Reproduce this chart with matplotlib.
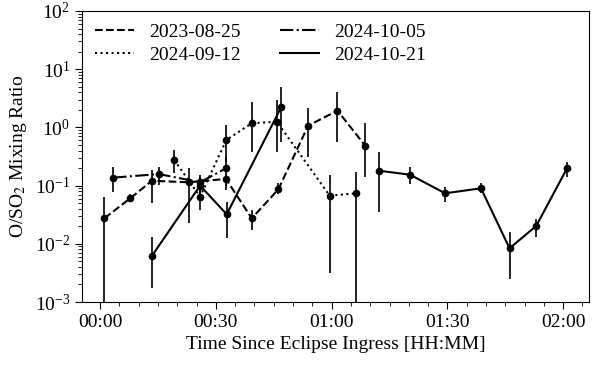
import numpy as np
import matplotlib
matplotlib.use("Agg")
import matplotlib.pyplot as plt
from matplotlib.ticker import FuncFormatter, MultipleLocator
from matplotlib.lines import Line2D

plt.rcParams['font.family'] = ['Liberation Serif', 'DejaVu Serif']
plt.rcParams['mathtext.fontset'] = 'stix'
plt.rcParams['font.size'] = 14

# minutes since ingress, ratio, lower and upper bound of error bar
t_0825 = [1.1, 7.8, 13.4, 22.9, 32.6, 39.3, 46.2, 53.9, 61.5, 68.7]
r_0825 = [0.0274, 0.0605, 0.121, 0.114, 0.130, 0.0274, 0.0864, 1.07, 1.94, 0.485]
lo_0825 = [1e-4, 0.0523, 0.0508, 0.0228, 0.098, 0.0173, 0.0720, 0.314, 0.568, 0.139]
hi_0825 = [0.0645, 0.0718, 0.185, 0.201, 0.160, 0.038, 0.1095, 2.15, 4.11, 1.18]

t_0912 = [19.2, 25.9, 32.7, 39.3, 45.8, 59.5, 66.2]
r_0912 = [0.275, 0.0645, 0.607, 1.18, 1.25, 0.067, 0.0737]
lo_0912 = [0.163, 0.038, 0.257, 0.382, 0.382, 0.0032, 1e-4]
hi_0912 = [0.409, 0.0958, 1.10, 2.77, 2.96, 0.152, 0.173]

t_1005 = [3.4, 15.2, 25.9, 32.6]
r_1005 = [0.137, 0.158, 0.114, 0.198]
lo_1005 = [0.0785, 0.102, 0.0785, 0.084]
hi_1005 = [0.211, 0.211, 0.152, 0.314]

t_1021 = [13.4, 25.9, 32.8, 46.9, np.nan, 72.3, 80.3, 89.4, 98.7, 106.1, 113.0, 121.0]
r_1021 = [0.00617, 0.10, 0.0321, 2.21, np.nan, 0.180, 0.154, 0.0737, 0.0899, 0.00837, 0.0202, 0.198]
lo_1021 = [0.00172, 0.07, 0.0124, 0.568, np.nan, 0.0356, 0.107, 0.0529, 0.0746, 0.00246, 0.0129, 0.142]
hi_1021 = [0.0132, 0.14, 0.0529, 5.0, np.nan, 0.382, 0.209, 0.0946, 0.111, 0.0161, 0.0267, 0.257]

series = [
    ("2023-08-25", "--", t_0825, r_0825, lo_0825, hi_0825),
    ("2024-09-12", ":", t_0912, r_0912, lo_0912, hi_0912),
    ("2024-10-05", "-.", t_1005, r_1005, lo_1005, hi_1005),
    ("2024-10-21", "-", t_1021, r_1021, lo_1021, hi_1021),
]

fig = plt.figure(figsize=(5.93, 3.65), dpi=100)
ax = fig.add_axes([0.1383, 0.1726, 0.855, 0.7973])

handles = []
for label, ls, t, r, lo, hi in series:
    t = np.array(t); r = np.array(r)
    yerr = [r - np.array(lo), np.array(hi) - r]
    ax.errorbar(t, r, yerr=yerr, fmt='o', ls=ls, color='k', ms=4.5,
                lw=1.5, elinewidth=1.2, capsize=0)
    handles.append(Line2D([], [], color='k', ls=ls, lw=1.5, label=label))

ax.set_yscale('log')
ax.set_ylim(1e-3, 1e2)
ax.set_xlim(-4.7, 126.7)

ax.xaxis.set_major_locator(MultipleLocator(30))
ax.xaxis.set_minor_locator(MultipleLocator(5))
ax.xaxis.set_major_formatter(FuncFormatter(lambda v, p: "%02d:%02d" % (v // 60, v % 60)))
ax.tick_params(which='major', length=5)
ax.tick_params(which='minor', length=3)

ax.set_xlabel("Time Since Eclipse Ingress [HH:MM]")
ax.set_ylabel(r"O/SO$_2$ Mixing Ratio")

ax.legend(handles=handles, ncol=2, loc='upper left', frameon=False,
          handlelength=2, columnspacing=2.0, labelspacing=0.25,
          borderaxespad=0.25)

fig.savefig("out.png", dpi=100)
